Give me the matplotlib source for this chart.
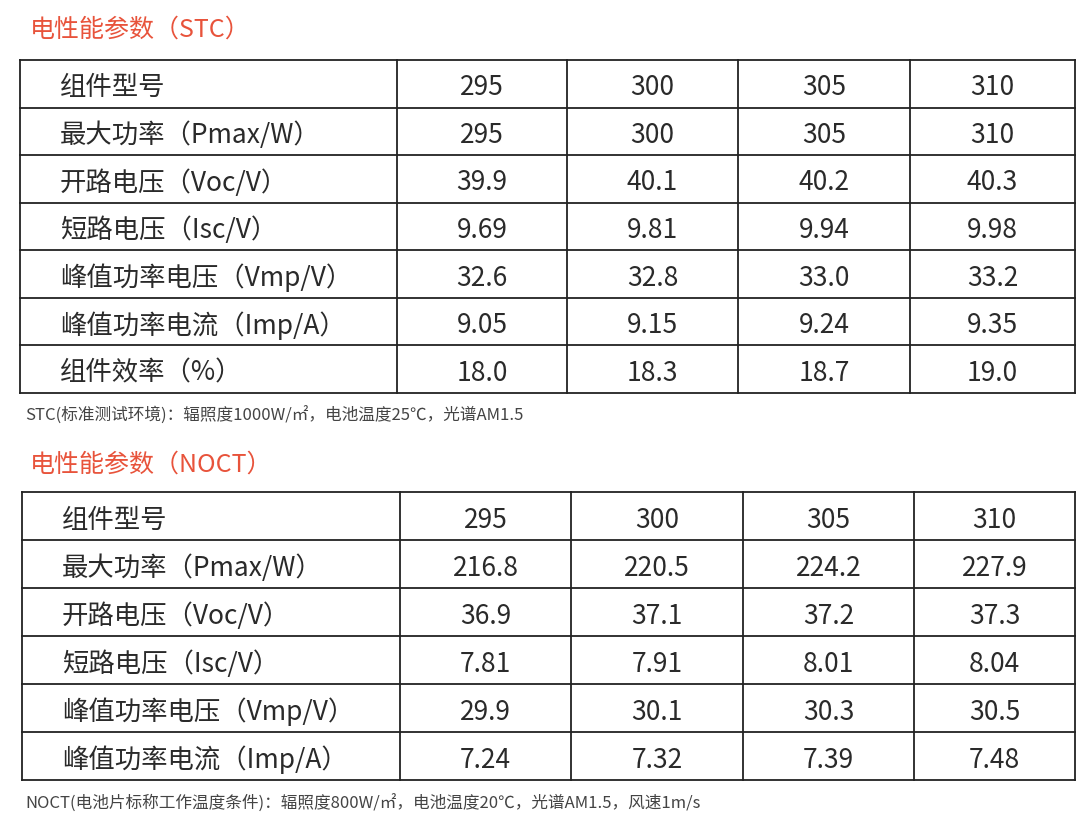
import matplotlib
matplotlib.use("Agg")
import matplotlib.pyplot as plt

plt.rcParams['font.family'] = ['Noto Sans CJK SC', 'DejaVu Sans']

models = ["295", "300", "305", "310"]
stc_labels = ["组件型号", "最大功率（Pmax/W）", "开路电压（Voc/V）", "短路电压（Isc/V）",
              "峰值功率电压（Vmp/V）", "峰值功率电流（Imp/A）", "组件效率（%）"]
stc_values = [models,
              ["295", "300", "305", "310"],
              ["39.9", "40.1", "40.2", "40.3"],
              ["9.69", "9.81", "9.94", "9.98"],
              ["32.6", "32.8", "33.0", "33.2"],
              ["9.05", "9.15", "9.24", "9.35"],
              ["18.0", "18.3", "18.7", "19.0"]]
noct_labels = ["组件型号", "最大功率（Pmax/W）", "开路电压（Voc/V）", "短路电压（Isc/V）",
               "峰值功率电压（Vmp/V）", "峰值功率电流（Imp/A）"]
noct_values = [models,
               ["216.8", "220.5", "224.2", "227.9"],
               ["36.9", "37.1", "37.2", "37.3"],
               ["7.81", "7.91", "8.01", "8.04"],
               ["29.9", "30.1", "30.3", "30.5"],
               ["7.24", "7.32", "7.39", "7.48"]]
title1 = "电性能参数（STC）"
title2 = "电性能参数（NOCT）"
note1 = "STC(标准测试环境)：辐照度1000W/㎡，电池温度25℃，光谱AM1.5"
note2 = "NOCT(电池片标称工作温度条件)：辐照度800W/㎡，电池温度20℃，光谱AM1.5，风速1m/s"

fig = plt.figure(figsize=(10.8, 8.27), dpi=100)
ax = fig.add_axes([0, 0, 1, 1])
ax.set_xlim(0, 1080)
ax.set_ylim(827, 0)
ax.axis('off')

RED = '#e8533b'
TXT = '#2a2a2a'

def table(labels, values, top, bottom, cols):
    n = len(labels)
    h = (bottom - top) / n
    for i in range(n + 1):
        ax.plot([cols[0], cols[-1]], [top + i * h] * 2, color='#222', lw=1.3)
    for c in cols:
        ax.plot([c, c], [top, bottom], color='#222', lw=1.3)
    for i, (lab, row) in enumerate(zip(labels, values)):
        yc = top + (i + 0.5) * h + 4
        ax.text(cols[0] + 40, yc, lab, fontsize=19, color=TXT, va='center', ha='left',
                fontweight='light')
        for j, v in enumerate(row):
            ax.text((cols[j + 1] + cols[j + 2]) / 2, yc, v, fontsize=19, color=TXT,
                    va='center', ha='center', fontweight='light')

ax.text(30, 30, title1, fontsize=18, color=RED, va='center', fontweight='light')
table(stc_labels, stc_values, 60, 393, [20, 397, 567, 738, 910, 1075])
ax.text(25, 416, note1, fontsize=12, color='#444', va='center', fontweight='light')
ax.text(30, 465, title2, fontsize=18, color=RED, va='center', fontweight='light')
table(noct_labels, noct_values, 492, 780, [22, 400, 571, 743, 914, 1075])
ax.text(25, 804, note2, fontsize=12, color='#444', va='center', fontweight='light')

fig.savefig("out.png", dpi=100)
